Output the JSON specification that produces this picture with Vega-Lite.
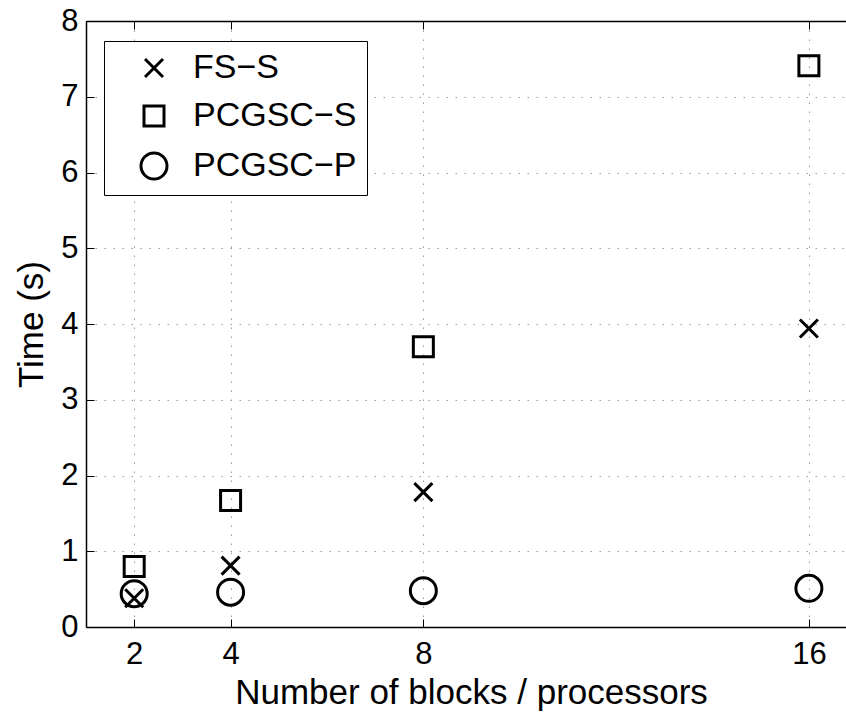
{
  "$schema": "https://vega.github.io/schema/vega-lite/v6.json",
  "width": 760,
  "height": 606,
  "autosize": "none",
  "padding": {"left": 86, "top": 21, "right": 0, "bottom": 86},
  "background": "white",
  "data": {
    "values": [
      {"blocks": 2, "time": 0.38, "method": "FS−S"},
      {"blocks": 4, "time": 0.81, "method": "FS−S"},
      {"blocks": 8, "time": 1.78, "method": "FS−S"},
      {"blocks": 16, "time": 3.94, "method": "FS−S"},
      {"blocks": 2, "time": 0.80, "method": "PCGSC−S"},
      {"blocks": 4, "time": 1.67, "method": "PCGSC−S"},
      {"blocks": 8, "time": 3.70, "method": "PCGSC−S"},
      {"blocks": 16, "time": 7.41, "method": "PCGSC−S"},
      {"blocks": 2, "time": 0.44, "method": "PCGSC−P"},
      {"blocks": 4, "time": 0.46, "method": "PCGSC−P"},
      {"blocks": 8, "time": 0.48, "method": "PCGSC−P"},
      {"blocks": 16, "time": 0.51, "method": "PCGSC−P"}
    ]
  },
  "layer": [
    {
      "mark": {"type": "point", "filled": false, "size": 400, "strokeWidth": 3, "opacity": 1},
      "encoding": {
        "x": {
          "field": "blocks", "type": "quantitative",
          "scale": {"domain": [1, 16.77], "nice": false, "zero": false},
          "axis": {
            "orient": "bottom", "values": [2, 4, 8, 16], "format": "d", "title": "Number of blocks / processors",
            "labelFontSize": 31, "labelPadding": 20,
            "titleX": 385, "titleY": 76, "titleBaseline": "alphabetic", "titleAlign": "center"
          }
        },
        "y": {
          "field": "time", "type": "quantitative",
          "scale": {"domain": [0, 8], "nice": false},
          "axis": {
            "values": [0, 1, 2, 3, 4, 5, 6, 7, 8], "format": "d", "title": "Time (s)",
            "labelFontSize": 31, "labelPadding": 16,
            "titleX": -44, "titleY": 303, "titleBaseline": "alphabetic", "titleAlign": "center", "titleAngle": -90
          }
        },
        "shape": {
          "field": "method", "type": "nominal",
          "scale": {
            "domain": ["FS−S", "PCGSC−S", "PCGSC−P"],
            "range": [
              "M-0.9,-0.9L0.9,0.9M-0.9,0.9L0.9,-0.9",
              "M-1,-1H1V1H-1Z",
              "M-1.3,0A1.3,1.3,0,1,0,1.3,0A1.3,1.3,0,1,0,-1.3,0Z"
            ]
          },
          "legend": {
            "title": null, "orient": "none", "legendX": 18, "legendY": 20,
            "padding": 10, "symbolOffset": 23, "labelOffset": 22, "rowPadding": 14,
            "symbolSize": 400, "symbolStrokeWidth": 3, "symbolStrokeColor": "black", "symbolFillColor": "transparent",
            "labelFontSize": 34, "labelFont": "Liberation Sans", "labelColor": "black", "labelLimit": 400,
            "strokeColor": "black", "fillColor": "white"
          }
        },
        "color": {"value": "black"}
      }
    },
    {
      "mark": {"type": "point", "opacity": 0},
      "encoding": {
        "x": {
          "field": "blocks", "type": "quantitative",
          "axis": {"orient": "top", "values": [2, 4, 8, 16], "labels": false, "title": null, "grid": false}
        },
        "y": {"field": "time", "type": "quantitative"}
      }
    }
  ],
  "resolve": {"axis": {"x": "independent"}},
  "config": {
    "view": {"stroke": null},
    "font": "Liberation Sans",
    "axis": {
      "domainColor": "black", "domainWidth": 1.5,
      "tickColor": "black", "tickWidth": 1, "tickSize": -8,
      "labelFont": "Liberation Sans", "labelFontSize": 31, "labelColor": "black",
      "titleFont": "Liberation Sans", "titleFontSize": 35, "titleFontWeight": "normal", "titleColor": "black",
      "grid": true, "gridColor": "#999", "gridDash": [1.5, 7.5], "gridWidth": 1
    }
  }
}
